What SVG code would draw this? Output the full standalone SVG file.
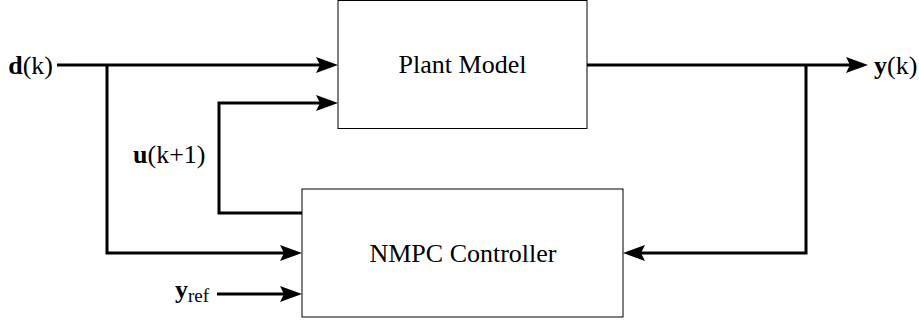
<svg xmlns="http://www.w3.org/2000/svg" width="919" height="324" viewBox="0 0 919 324" font-family="'Liberation Serif', 'DejaVu Serif', serif">
  <style>
    .box { fill: #ffffff; stroke: #000000; stroke-width: 1; }
    .wire { fill: none; stroke: #000000; stroke-width: 3; stroke-linejoin: miter; }
    .arrow { marker-end: url(#head); }
    .t { font-family: 'Liberation Serif', 'DejaVu Serif', serif; font-size: 26px; fill: #000000; }
    .b { font-weight: bold; }
    .sub { font-size: 19px; }
  </style>
  <defs>
    <marker id="head" markerUnits="userSpaceOnUse" markerWidth="24" markerHeight="18" refX="6" refY="8" orient="auto">
      <path d="M0,0 L22,8 L0,16 L4,8 Z" fill="#000000"/>
    </marker>
  </defs>

  <!-- signal lines -->
  <g id="connectors">
    <path class="wire arrow" d="M57,65 H322"/>
    <path class="wire arrow" d="M107,65 V253 H286"/>
    <path class="wire arrow" d="M302,213 H219 V103 H322"/>
    <path class="wire arrow" d="M587,65 H852"/>
    <path class="wire arrow" d="M806,65 V253 H639"/>
    <path class="wire arrow" d="M217,294 H286"/>
  </g>

  <g id="plant-model">
    <rect class="box" x="338" y="0.5" width="249" height="128"/>
    <text class="t" x="462.5" y="73" text-anchor="middle">Plant Model</text>
  </g>

  <g id="nmpc-controller">
    <rect class="box" x="302" y="189" width="321" height="128"/>
    <text class="t" x="463" y="262" text-anchor="middle">NMPC Controller</text>
  </g>

  <g id="label-d">
    <text class="t" x="53" y="74" text-anchor="end"><tspan class="b">d</tspan>(k)</text>
  </g>
  <g id="label-y">
    <text class="t" x="874" y="74"><tspan class="b">y</tspan>(k)</text>
  </g>
  <g id="label-u">
    <text class="t" x="133" y="163"><tspan class="b">u</tspan>(k+1)</text>
  </g>
  <g id="label-yref">
    <text class="t" x="175" y="297.5"><tspan class="b">y</tspan><tspan class="sub" dy="4">ref</tspan></text>
  </g>
</svg>
